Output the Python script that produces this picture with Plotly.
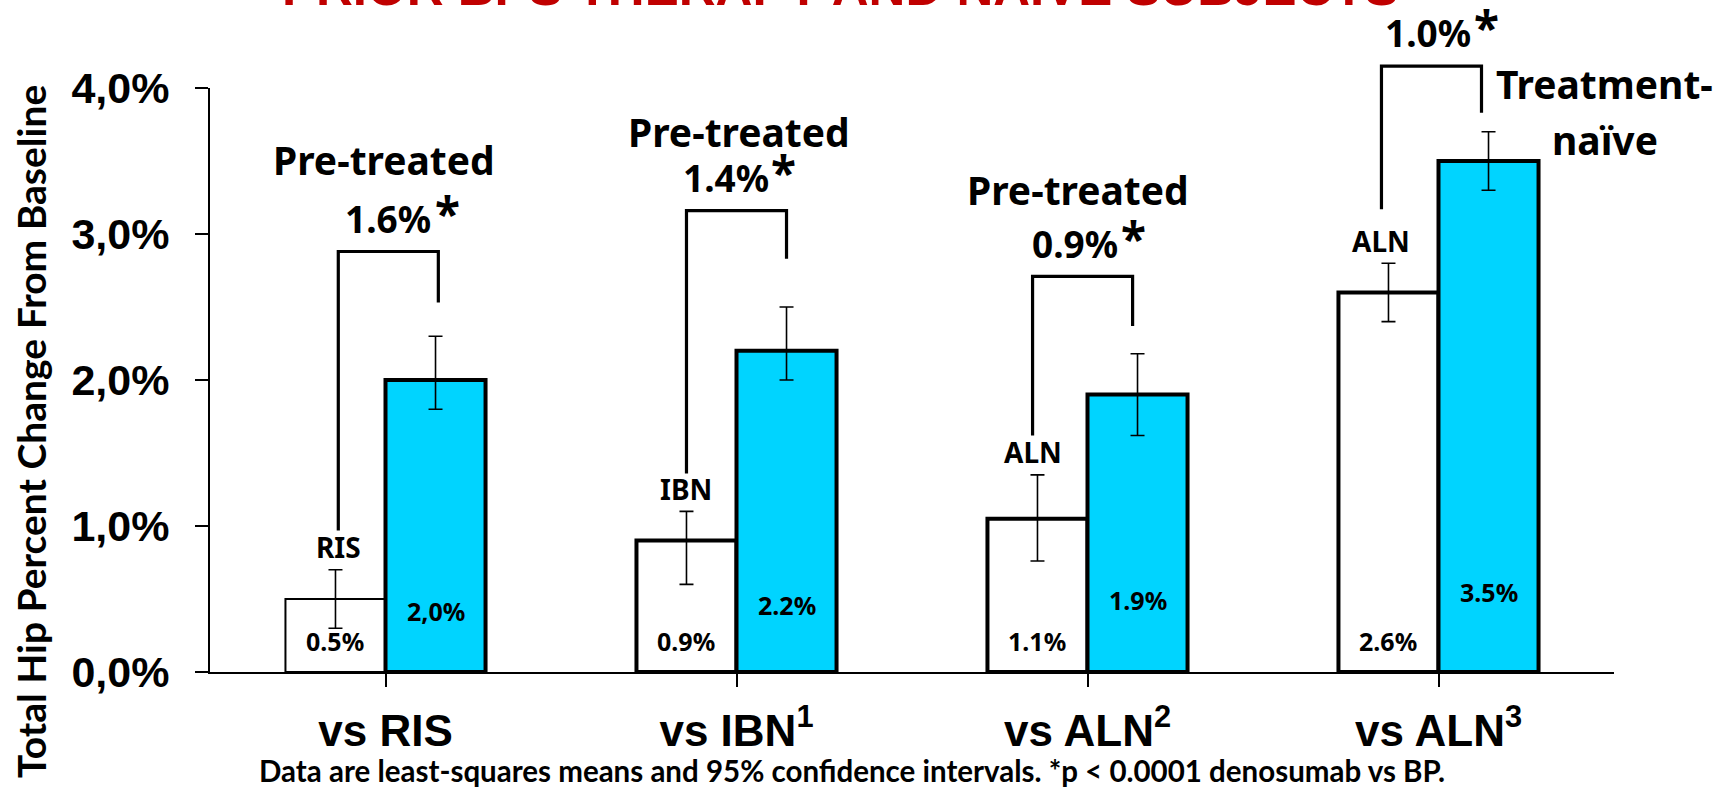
import plotly.graph_objects as go

# ---------------- data ----------------
categories = ["vs RIS", "vs IBN<sup>1</sup>", "vs ALN<sup>2</sup>", "vs ALN<sup>3</sup>"]
bp_names = ["RIS", "IBN", "ALN", "ALN"]
bp_values = [0.5, 0.9, 1.05, 2.6]
bp_ci_hi = [0.7, 1.1, 1.35, 2.8]
bp_ci_lo = [0.3, 0.6, 0.76, 2.4]
bp_labels = ["0.5%", "0.9%", "1.1%", "2.6%"]
dmab_values = [2.0, 2.2, 1.9, 3.5]
dmab_ci_hi = [2.3, 2.5, 2.18, 3.7]
dmab_ci_lo = [1.8, 2.0, 1.62, 3.3]
dmab_labels = ["2,0%", "2.2%", "1.9%", "3.5%"]
diff_labels = ["1.6%", "1.4%", "0.9%", "1.0%"]
group_labels = ["Pre-treated", "Pre-treated", "Pre-treated"]
naive_label = ["Treatment-", "naïve"]
y_ticks = [0, 1, 2, 3, 4]
y_ticktext = ["0,0%", "1,0%", "2,0%", "3,0%", "4,0%"]

title_text = "PRIOR BPS THERAPY AND NAÏVE SUBJECTS"
y_title = "Total Hip Percent Change From Baseline"
footnote = "Data are least-squares means and 95% confidence intervals. *p < 0.0001 denosumab vs BP."

# ---------------- style / layout constants ----------------
W, H = 1732, 789
ML, MR, MT, MB = 210, 118, 88, 117
YMAX = 4.0
BLUE = "#00D4FF"
BARGAP = 0.43
half = (1 - BARGAP) / 4          # offset of each bar centre from category centre
LBL_FONT = "Noto Sans"
CAL_FONT = "Lato"

# bracket geometry (in % units)
br_left_gap = [0.27, 0.26, 0.27, 0.37]
br_right_gap = [0.23, 0.33, 0.19, 0.13]
br_top = [2.88, 3.16, 2.71, 4.15]
br_dx = [0.008, 0.0, -0.014, -0.02]
blue_label_y = [0.42, 0.46, 0.49, 0.55]
diff_dx = [0.006, -0.031, -0.037, -0.031]
star_dx = [0.177, 0.134, 0.131, 0.137]
grp_pos = [(-0.003, 3.315), (0.006, 3.507), (-0.026, 3.11)]
naive_pos = [(0.473, 3.836), (0.473, 3.452)]

x_idx = list(range(len(categories)))

fig = go.Figure()
fig.add_trace(go.Bar(
    x=x_idx, y=bp_values, name="BP",
    marker=dict(color="white", line=dict(color="black", width=[2, 4, 4, 4])),
    error_y=dict(type="data", symmetric=False,
                 array=[h - v for h, v in zip(bp_ci_hi, bp_values)],
                 arrayminus=[v - l for l, v in zip(bp_ci_lo, bp_values)],
                 color="black", thickness=1.6, width=7),
    showlegend=False,
))
fig.add_trace(go.Bar(
    x=x_idx, y=dmab_values, name="Denosumab",
    marker=dict(color=BLUE, line=dict(color="black", width=4)),
    error_y=dict(type="data", symmetric=False,
                 array=[h - v for h, v in zip(dmab_ci_hi, dmab_values)],
                 arrayminus=[v - l for l, v in zip(dmab_ci_lo, dmab_values)],
                 color="black", thickness=1.6, width=7),
    showlegend=False,
))

def py(v):
    """data value -> paper y (plot domain spans the full y range)"""
    return v / YMAX

def label(x, yv, text, size, yanchor="bottom"):
    return dict(x=x, y=py(yv), xref="x", yref="paper", text=text,
                showarrow=False, yanchor=yanchor,
                font=dict(family=LBL_FONT, size=size, color="black", weight="bold"))

annotations = []
shapes = []
for i in x_idx:
    xl = i - half
    xr = i + half
    d = br_dx[i]
    yl = bp_ci_hi[i] + br_left_gap[i]
    yr = dmab_ci_hi[i] + br_right_gap[i]
    yt = br_top[i]
    shapes.append(dict(type="path", xref="x", yref="paper",
                       path=f"M {xl + d} {py(yl)} L {xl + d} {py(yt)} L {xr + d} {py(yt)} L {xr + d} {py(yr)}",
                       line=dict(color="black", width=3.2)))
    annotations.append(label(xl + d, bp_ci_hi[i] + 0.01, bp_names[i], 28))
    annotations.append(label(xl, 0.21, bp_labels[i], 25, "middle"))
    annotations.append(label(xr, blue_label_y[i], dmab_labels[i], 25, "middle"))
    annotations.append(label(i + diff_dx[i], yt + 0.04, diff_labels[i], 37))
    annotations.append(label(i + star_dx[i], yt + 0.04, "*", 46))

for i, (dx, yy) in enumerate(grp_pos):
    annotations.append(label(i + dx, yy, group_labels[i], 39))
for txt, (dx, yy) in zip(naive_label, naive_pos):
    annotations.append(label(3 + dx, yy, txt, 39))

# title (cut off at the top of the page, as in the reference)
annotations.append(dict(x=0.449, y=1.12, xref="paper", yref="paper", text=title_text,
                        showarrow=False, yanchor="bottom", xanchor="center",
                        font=dict(family="Liberation Sans", size=51, color="#C00000", weight="bold")))
# y-axis title
annotations.append(dict(x=-0.1275, y=0.4127, xref="paper", yref="paper", text=y_title,
                        showarrow=False, textangle=-90, xanchor="center", yanchor="middle",
                        font=dict(family=CAL_FONT, size=39, color="black", weight="bold")))
# footnote
annotations.append(dict(x=0.457, y=-0.168, xref="paper", yref="paper", text=footnote,
                        showarrow=False, xanchor="center", yanchor="middle",
                        font=dict(family=CAL_FONT, size=29.5, color="black", weight="bold")))

fig.update_layout(
    width=W, height=H,
    margin=dict(l=ML, r=MR, t=MT, b=MB, pad=0),
    paper_bgcolor="white", plot_bgcolor="white",
    barmode="group", bargap=BARGAP, bargroupgap=0,
    annotations=annotations, shapes=shapes,
    showlegend=False,
)
fig.update_xaxes(
    tickmode="array", tickvals=x_idx, ticktext=categories,
    tickson="boundaries", ticks="outside", ticklen=13, tickwidth=2, tickcolor="black",
    showline=True, linecolor="black", linewidth=2, showgrid=False, zeroline=False,
    range=[-0.5, 3.5], ticklabelstandoff=6,
    tickfont=dict(family="Liberation Sans", size=44, color="black", weight="bold"),
)
fig.update_yaxes(
    range=[0, YMAX], tickmode="array", tickvals=y_ticks, ticktext=y_ticktext,
    ticks="outside", ticklen=13, tickwidth=2, tickcolor="black",
    showline=True, linecolor="black", linewidth=2, showgrid=False, zeroline=False,
    ticklabelstandoff=17,
    tickfont=dict(family="Liberation Sans", size=43, color="black", weight="bold"),
)

fig.write_html("out.html", config={"displayModeBar": False},
               post_script="document.body.style.margin='0px';")
